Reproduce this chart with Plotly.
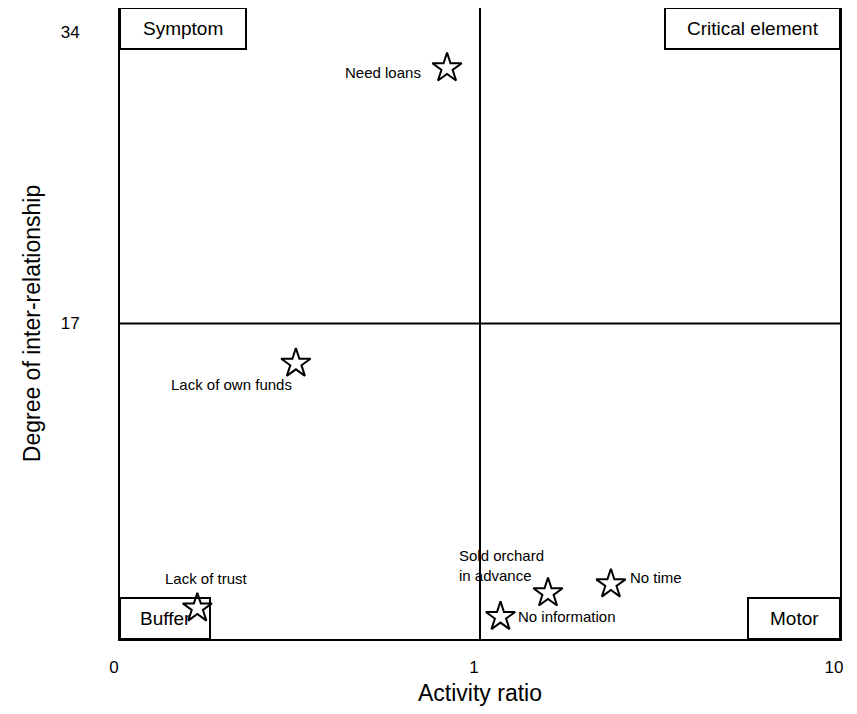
import math
import plotly.graph_objects as go

# Data
labels = ["Need loans", "Lack of own funds", "Lack of trust",
          "Sold orchard<br>in advance", "No time", "No information"]
activity_ratio = [0.81, 0.308, 0.164, 1.545, 2.31, 1.14]
inter_relationship = [31.9, 14.67, 0.4, 1.28, 1.8, -0.1]

x_tickvals = [0.1, 1, 10]
x_ticktext = ["0", "1", "10"]
y_tickvals = [17, 34]
y_ticktext = ["17", "34"]
x_divider = 1
y_divider = 17

quadrant_names = ["Symptom", "Critical element", "Buffer", "Motor"]

FONT = "Liberation Sans, Arial, sans-serif"

fig = go.Figure()
fig.add_trace(go.Scatter(
    x=activity_ratio, y=inter_relationship, mode="markers",
    marker=dict(symbol="star-open", size=22, color="black",
                line=dict(color="black", width=2)),
    showlegend=False, hoverinfo="skip",
))

# quadrant divider lines
fig.add_shape(type="line", xref="x", yref="paper", x0=x_divider, x1=x_divider, y0=0, y1=1,
              line=dict(color="black", width=2), layer="below")
fig.add_shape(type="line", xref="paper", yref="y", x0=0, x1=1, y0=y_divider, y1=y_divider,
              line=dict(color="black", width=2), layer="below")

# quadrant name boxes (shapes below markers), text as annotations
box_cfg = [
    dict(ax=0, ay=1, w=(0, 126), h=(-41, 0)),
    dict(ax=1, ay=1, w=(-175, 0), h=(-41, 0)),
    dict(ax=0, ay=0, w=(0, 90), h=(0, 41)),
    dict(ax=1, ay=0, w=(-92, 0), h=(0, 41)),
]
for name, c in zip(quadrant_names, box_cfg):
    fig.add_shape(type="rect", xref="paper", yref="paper",
                  xsizemode="pixel", ysizemode="pixel",
                  xanchor=c["ax"], yanchor=c["ay"],
                  x0=c["w"][0], x1=c["w"][1], y0=c["h"][0], y1=c["h"][1],
                  fillcolor="white", line=dict(color="black", width=2),
                  layer="below")
    fig.add_annotation(xref="paper", yref="paper", x=c["ax"], y=c["ay"],
                       xshift=(c["w"][0] + c["w"][1]) / 2,
                       yshift=(c["h"][0] + c["h"][1]) / 2,
                       xanchor="center", yanchor="middle",
                       text=name, showarrow=False,
                       font=dict(family=FONT, size=19, color="black"))

# point labels (text offsets relative to marker)
label_cfg = [
    dict(xanchor="right", xshift=-24, yshift=-4),
    dict(xanchor="right", xshift=-2, yshift=-21),
    dict(xanchor="center", xshift=9, yshift=30),
    dict(xanchor="right", xshift=-2, yshift=28, bg=True),
    dict(xanchor="left", xshift=17, yshift=7),
    dict(xanchor="left", xshift=16, yshift=0),
]
for lab, xv, yv, cfg in zip(labels, activity_ratio, inter_relationship, label_cfg):
    lx = math.log10(xv)
    if cfg.get("bg"):
        # white patch behind the label hiding the divider line (under markers)
        fig.add_shape(type="rect", xref="x", yref="y",
                      xsizemode="pixel", ysizemode="pixel",
                      xanchor=xv, yanchor=yv, x0=-92, x1=-14, y0=-6, y1=45,
                      fillcolor="white", line=dict(width=0), layer="below")
    fig.add_annotation(x=lx, y=yv, xref="x", yref="y", text=lab, showarrow=False,
                       xanchor=cfg["xanchor"], yanchor="middle",
                       xshift=cfg["xshift"], yshift=cfg["yshift"], align="left",
                       font=dict(family=FONT, size=15, color="black"))

fig.update_xaxes(type="log", range=[-1, 1], tickvals=x_tickvals, ticktext=x_ticktext,
                 showgrid=False, zeroline=False, showline=True, mirror=True,
                 linecolor="black", linewidth=2, ticks="", ticklabelshift=-6,
                 ticklabelstandoff=12, automargin=False,
                 tickfont=dict(family=FONT, size=17, color="black"),
                 title=dict(text="Activity ratio", standoff=8,
                            font=dict(family=FONT, size=23, color="black")))
fig.update_yaxes(range=[-1.4, 35.4], tickvals=y_tickvals, ticktext=y_ticktext,
                 showgrid=False, zeroline=False, showline=True, mirror=True,
                 linecolor="black", linewidth=2, ticks="",
                 ticklabelstandoff=35, automargin=False,
                 tickfont=dict(family=FONT, size=17, color="black"),
                 title=dict(text="Degree of inter-relationship", standoff=14,
                            font=dict(family=FONT, size=23, color="black")))

# page body has an 8px margin, so the figure is sized to fit the window
fig.update_layout(width=849, height=706, plot_bgcolor="white", paper_bgcolor="white",
                  margin=dict(l=112, r=17, t=0, b=75), font=dict(family=FONT))

fig.write_html("out.html")
